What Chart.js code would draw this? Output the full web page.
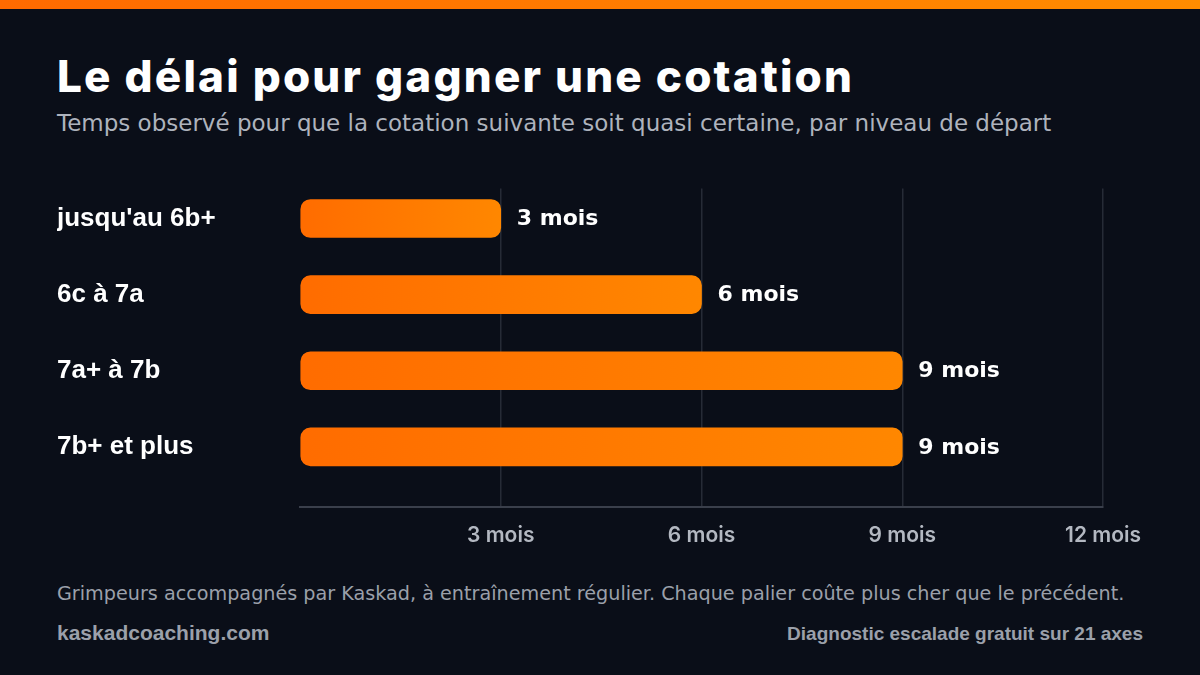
<!DOCTYPE html>
<html lang="fr">
<head>
<meta charset="utf-8">
<script src="https://cdn.jsdelivr.net/npm/chart.js@4.4.1/dist/chart.umd.min.js"></script>
<style>
  html, body { margin: 0; padding: 0; }
  body {
    width: 1200px; height: 675px; overflow: hidden; position: relative;
    background: #0a0e18; font-family: "Liberation Sans", Arial, sans-serif;
  }
  .stripe { position: absolute; left: 0; top: 0; width: 1200px; height: 9px;
    background: linear-gradient(90deg, #ff6a00, #ff8c00); }
  .title { position: absolute; left: 57px; top: 49px; margin: 0;
    font-family: Inter, sans-serif; font-weight: 800; font-size: 44px;
    color: #ffffff; letter-spacing: 2.2px; white-space: nowrap; }
  .subtitle { position: absolute; left: 57px; top: 110px; margin: 0;
    font-family: "DejaVu Sans", sans-serif; font-weight: 400; font-size: 23px;
    color: #aeb3bd; white-space: nowrap; }
  #wrap { position: absolute; left: 57px; top: 170px; width: 1103px; height: 390px; }
  .note { position: absolute; left: 57px; top: 582px; font-family: "DejaVu Sans", sans-serif;
    font-size: 19.2px; color: #9ba0aa; white-space: nowrap; }
  .site { position: absolute; left: 57px; top: 621px; font-size: 21px; font-weight: bold;
    color: #9ba0aa; }
  .cta { position: absolute; right: 57px; top: 623px; font-size: 19px; font-weight: bold;
    color: #9ba0aa; }
</style>
</head>
<body>
<div class="stripe"></div>
<h1 class="title">Le délai pour gagner une cotation</h1>
<p class="subtitle">Temps observé pour que la cotation suivante soit quasi certaine, par niveau de départ</p>
<div id="wrap"><canvas id="delayChart"></canvas></div>
<div class="note">Grimpeurs accompagnés par Kaskad, à entraînement régulier. Chaque palier coûte plus cher que le précédent.</div>
<div class="site">kaskadcoaching.com</div>
<div class="cta">Diagnostic escalade gratuit sur 21 axes</div>

<script>
// Data
const levels = ['jusqu\'au 6b+', '6c à 7a', '7a+ à 7b', '7b+ et plus'];
const months = [3, 6, 9, 9];
const monthTicks = [3, 6, 9, 12];

document.addEventListener('DOMContentLoaded', function() {
    initializeChart();
});

// horizontal gradient across each bar
function barGradient(context) {
    const chart = context.chart;
    const area = chart.chartArea;
    if (!area) return '#ff7a00';
    const x0 = chart.scales.x.getPixelForValue(0);
    const x1 = chart.scales.x.getPixelForValue(months[context.dataIndex]);
    const g = chart.ctx.createLinearGradient(x0, 0, x1, 0);
    g.addColorStop(0, '#ff6c00');
    g.addColorStop(1, '#ff8700');
    return g;
}

// "x mois" labels at the end of the bars
const valueLabels = {
    id: 'valueLabels',
    afterDatasetsDraw(chart) {
        const ctx = chart.ctx;
        const meta = chart.getDatasetMeta(0);
        ctx.save();
        ctx.font = 'bold 22px "DejaVu Sans", sans-serif';
        ctx.fillStyle = '#ffffff';
        ctx.textAlign = 'left';
        ctx.textBaseline = 'middle';
        meta.data.forEach(function(bar, i) {
            ctx.fillText(months[i] + ' mois', bar.x + 16, bar.y + 1);
        });
        ctx.restore();
    }
};

function initializeChart() {
    const ctx = document.getElementById('delayChart').getContext('2d');

    new Chart(ctx, {
        type: 'bar',
        data: {
            datasets: [{
                data: months.map(function(v, i) { return { x: v, y: i }; }),
                backgroundColor: barGradient,
                borderRadius: 10,
                borderSkipped: false,
                barThickness: 38
            }]
        },
        options: {
            indexAxis: 'y',
            responsive: true,
            maintainAspectRatio: false,
            animation: false,
            layout: { padding: { top: 18, right: 57, left: 0, bottom: 0 } },
            scales: {
                x: {
                    type: 'linear',
                    min: 0,
                    max: 12,
                    afterBuildTicks: function(scale) {
                        scale.ticks = [0].concat(monthTicks).map(function(v) { return { value: v }; });
                    },
                    afterFit: function(scale) { scale.height = 53; },
                    grid: {
                        color: function(c) { return c.tick && c.tick.value === 0 ? 'rgba(0,0,0,0)' : '#262b36'; },
                        lineWidth: 1.5,
                        drawTicks: false
                    },
                    border: { display: true, color: '#3a3f4b', width: 2 },
                    ticks: {
                        color: '#b3b8c1',
                        padding: 16,
                        font: { family: 'Inter', size: 21, weight: '600' },
                        callback: function(v) { return v === 0 ? '' : v + ' mois'; }
                    }
                },
                y: {
                    type: 'linear',
                    reverse: true,
                    offset: false,
                    min: -0.393,
                    max: 3.79,
                    afterBuildTicks: function(scale) {
                        scale.ticks = levels.map(function(l, i) { return { value: i }; });
                    },
                    afterFit: function(scale) { scale.width = 243; },
                    grid: { display: false },
                    border: { display: false },
                    ticks: {
                        crossAlign: 'far',
                        color: '#ffffff',
                        font: { family: 'Liberation Sans', size: 26, weight: 'bold' },
                        callback: function(v) { return levels[v]; }
                    }
                }
            },
            plugins: {
                legend: { display: false },
                tooltip: { enabled: false }
            }
        },
        plugins: [valueLabels]
    });
}
</script>
</body>
</html>
